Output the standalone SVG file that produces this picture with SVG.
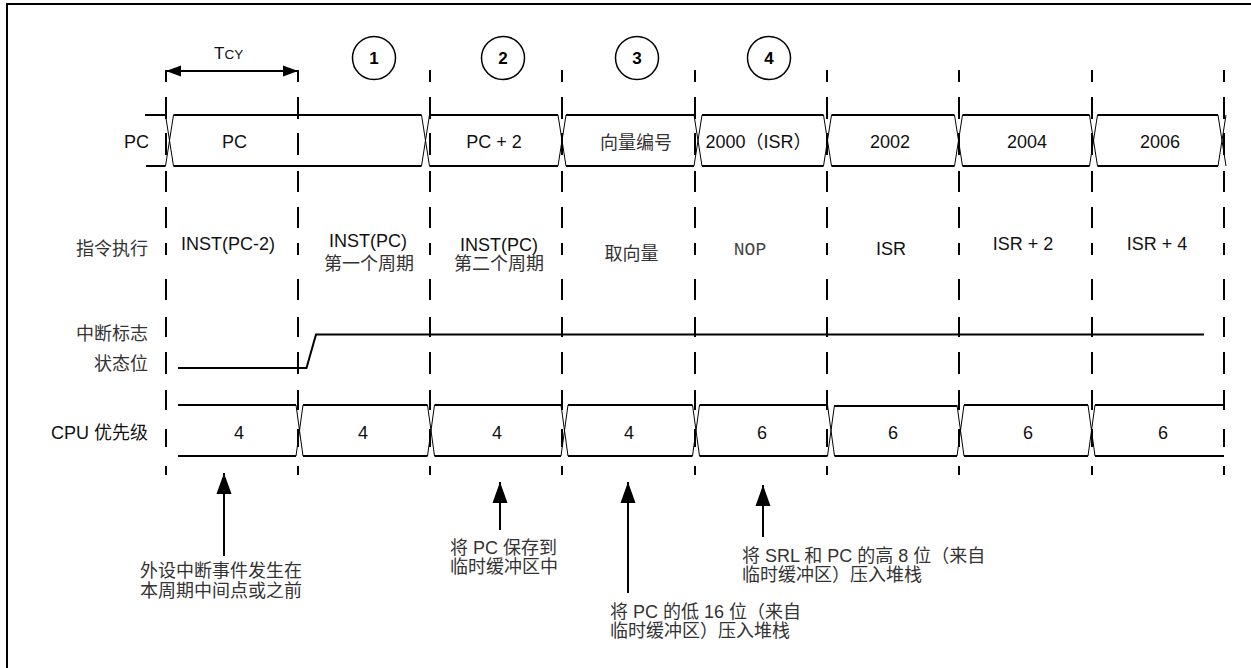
<svg xmlns="http://www.w3.org/2000/svg" xmlns:xlink="http://www.w3.org/1999/xlink" width="1251" height="668" viewBox="0 0 1251 668">
<style>
.ln{stroke:#000;stroke-width:2;fill:none}
.x{stroke:#000;stroke-width:1;fill:none}
.dash{stroke:#000;stroke-width:2;fill:none}
.t{font-family:"Liberation Sans","Noto Sans CJK SC",sans-serif;font-size:18px;fill:#111}
.c{font-family:"Liberation Sans","Noto Sans CJK SC",sans-serif;font-size:18px;fill:#333}
.m{font-family:"Liberation Mono",monospace;font-size:18px;fill:#444}
.mid{text-anchor:middle}
.end{text-anchor:end}
.num{font-family:"Liberation Sans",sans-serif;font-size:17px;font-weight:bold;fill:#000;text-anchor:middle}
.circ{stroke:#000;stroke-width:1.5;fill:none}
</style>
<defs>
<path id="vd" d="M0,70V82M0,97V119M0,133V155M0,171V192M0,207V228M0,243V255M0,279V300M0,317V337M0,352V374M0,390V410M0,429V447M0,466V475" class="dash"/>
<marker id="ah" markerUnits="userSpaceOnUse" markerWidth="22" markerHeight="16" refX="21" refY="8" orient="auto"><path d="M0,0.5L21,8L0,15.5z" fill="#000"/></marker>
<marker id="ah2" markerUnits="userSpaceOnUse" markerWidth="16" markerHeight="12" refX="15" refY="6" orient="auto"><path d="M0,0.5L15,6L0,11.5z" fill="#000"/></marker>
</defs>
<rect width="1251" height="668" fill="#fff"/>
<path class="ln" d="M7,668V4H1251"/>

<g id="grid">
<use xlink:href="#vd" x="166"/><use xlink:href="#vd" x="298"/><use xlink:href="#vd" x="430"/><use xlink:href="#vd" x="562"/><use xlink:href="#vd" x="695"/><use xlink:href="#vd" x="827"/><use xlink:href="#vd" x="959"/><use xlink:href="#vd" x="1092"/><use xlink:href="#vd" x="1224"/>
</g>

<g id="tcy">
<text x="214" y="59" font-family="Liberation Sans,sans-serif" font-size="17" fill="#111">T<tspan font-size="13.5">CY</tspan></text>
</g>

<g id="steps">
<circle class="circ" cx="374" cy="58" r="21.5"/><text class="num" x="374" y="64">1</text>
<circle class="circ" cx="503" cy="58" r="21.5"/><text class="num" x="503" y="64">2</text>
<circle class="circ" cx="637" cy="58" r="21.5"/><text class="num" x="637" y="64">3</text>
<circle class="circ" cx="769" cy="58" r="21.5"/><text class="num" x="769" y="64">4</text>
</g>

<g id="pc-row">
<path class="ln" d="M145,115H165.5M146,166H165.5M173.5,115H421.5M173.5,166H421.5M429.5,115H558M429.5,166H558M566,115H694M566,166H694M702,115H823.5M702,166H823.5M831.5,115H954.5M831.5,166H954.5M962.5,115H1089.5M962.5,166H1089.5M1097.5,115H1218M1097.5,166H1218"/>
<path class="x" d="M165.5,115L173.5,166M173.5,115L165.5,166M421.5,115L429.5,166M429.5,115L421.5,166M558,115L566,166M566,115L558,166M694,115L702,166M702,115L694,166M823.5,115L831.5,166M831.5,115L823.5,166M954.5,115L962.5,166M962.5,115L954.5,166M1089.5,115L1097.5,166M1097.5,115L1089.5,166M1218,115L1226,166M1226,115L1218,166"/>
<text class="t end" x="149" y="148">PC</text>
<text class="t mid" x="234.5" y="148">PC</text>
<text class="t mid" x="494" y="148">PC + 2</text>
<text class="c mid" x="636" y="149">向量编号</text>
<text class="t mid" x="758.5" y="148">2000（ISR）</text>
<text class="t mid" x="890" y="148">2002</text>
<text class="t mid" x="1027" y="148">2004</text>
<text class="t mid" x="1160" y="148">2006</text>
</g>

<g id="inst-row">
<text class="c end" x="148" y="255">指令执行</text>
<text class="t mid" x="228" y="250">INST(PC-2)</text>
<text class="t mid" x="368" y="247">INST(PC)</text>
<text class="c mid" x="369" y="270">第一个周期</text>
<text class="t mid" x="499" y="251">INST(PC)</text>
<text class="c mid" x="499" y="270">第二个周期</text>
<text class="c mid" x="631.5" y="260">取向量</text>
<text class="m mid" x="750" y="255">NOP</text>
<text class="t mid" x="891" y="255">ISR</text>
<text class="t mid" x="1023" y="250">ISR + 2</text>
<text class="t mid" x="1157" y="250">ISR + 4</text>
</g>

<g id="flag-row">
<path class="ln" d="M178,368H306.5L316,334.5H1204"/>
<text class="c end" x="148" y="340">中断标志</text>
<text class="c end" x="148" y="370">状态位</text>
</g>

<g id="cpu-row">
<path class="ln" d="M178,405H296M178,456H296M303,405H427.5M303,456H427.5M434.5,405H561M434.5,456H561M568,405H692.5M568,456H692.5M699.5,405H827.5M699.5,456H827.5M834.5,406H957M834.5,456H957M964,405H1088M964,456H1088M1095,405H1224M1095,456H1224"/>
<path class="x" d="M296,405L303,456M303,405L296,456M427.5,405L434.5,456M434.5,405L427.5,456M561,405L568,456M568,405L561,456M692.5,405L699.5,456M699.5,405L692.5,456M827.5,405L834.5,456M834.5,405L827.5,456M957,405L964,456M964,405L957,456M1088,405L1095,456M1095,405L1088,456"/>
<text class="t end" x="148" y="439">CPU 优先级</text>
<text class="t mid" x="239" y="439">4</text>
<text class="t mid" x="363" y="439">4</text>
<text class="t mid" x="497" y="439">4</text>
<text class="t mid" x="629" y="439">4</text>
<text class="t mid" x="762" y="439">6</text>
<text class="t mid" x="893" y="439">6</text>
<text class="t mid" x="1028" y="439">6</text>
<text class="t mid" x="1163" y="439">6</text>
</g>

<g id="notes">
<text class="c" x="140" y="577">外设中断事件发生在</text>
<text class="c" x="140" y="597">本周期中间点或之前</text>
<text class="c" x="450" y="554">将 PC 保存到</text>
<text class="c" x="450" y="573">临时缓冲区中</text>
<text class="c" x="610" y="618">将 PC 的低 16 位（来自</text>
<text class="c" x="610" y="637">临时缓冲区）压入堆栈</text>
<text class="c" x="742" y="562">将 SRL 和 PC 的高 8 位（来自</text>
<text class="c" x="742" y="581">临时缓冲区）压入堆栈</text>
</g>

<g id="connectors">
<path class="ln" d="M232,71H298" marker-end="url(#ah2)"/>
<path class="ln" d="M232,71H166" marker-end="url(#ah2)"/>
<path class="ln" d="M224,556V473" marker-end="url(#ah)"/>
<path class="ln" d="M500,530V482" marker-end="url(#ah)"/>
<path class="ln" d="M628,593V482" marker-end="url(#ah)"/>
<path class="ln" d="M763,537V485" marker-end="url(#ah)"/>
</g>
</svg>
